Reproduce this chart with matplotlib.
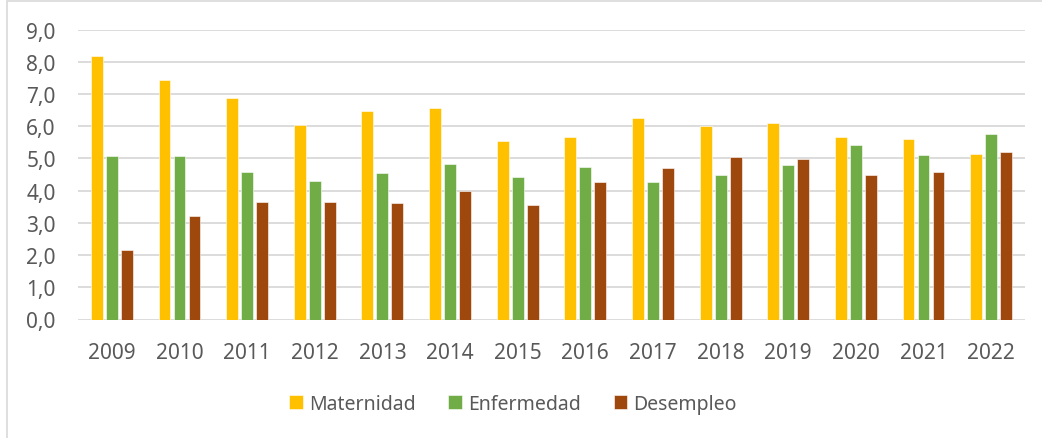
import matplotlib.pyplot as plt
import numpy as np
from matplotlib.patches import Rectangle
from matplotlib.ticker import FuncFormatter

plt.rcParams['font.family'] = ['Noto Sans', 'DejaVu Sans']

#-----------------------------
# DATA
#-----------------------------
years = ["2009", "2010", "2011", "2012", "2013", "2014", "2015",
         "2016", "2017", "2018", "2019", "2020", "2021", "2022"]
maternidad = [8.19, 7.44, 6.88, 6.05, 6.48, 6.55, 5.53, 5.65, 6.24, 5.99, 6.10, 5.66, 5.60, 5.14]
enfermedad = [5.07, 5.07, 4.57, 4.29, 4.55, 4.82, 4.41, 4.72, 4.28, 4.49, 4.78, 5.43, 5.11, 5.77]
desempleo = [2.16, 3.20, 3.66, 3.64, 3.61, 3.98, 3.54, 4.27, 4.69, 5.04, 4.98, 4.50, 4.59, 5.19]

series = [("Maternidad", maternidad, "#FFC000"),
          ("Enfermedad", enfermedad, "#70AD47"),
          ("Desempleo", desempleo, "#9E480E")]

text_col = "#595959"

#-----------------------------
# FIGURE
#-----------------------------
fig = plt.figure(figsize=(10.42, 4.39), dpi=100)
ax = fig.add_axes([78 / 1042, 1 - 320.5 / 439, (1025 - 78) / 1042, (320.5 - 30.5) / 439])

x = np.arange(len(years))
w = 0.175
offsets = [-0.222, 0, 0.222]
for (name, vals, col), off in zip(series, offsets):
    ax.bar(x + off, vals, width=w, color=col, label=name, zorder=3,
           edgecolor="white", linewidth=0.4)

ax.set_ylim(0, 9)
ax.set_xlim(-0.5, len(years) - 0.5)
ax.set_yticks(np.arange(0, 10, 1))
ax.yaxis.set_major_formatter(FuncFormatter(lambda v, p: f"{v:.1f}".replace(".", ",")))
ax.set_xticks(x)
ax.set_xticklabels(years)

ax.grid(axis="y", color="#D9D9D9", linewidth=1.3, zorder=0)
for s in ax.spines.values():
    s.set_visible(False)
ax.tick_params(length=0, labelsize=15, colors=text_col)
ax.tick_params(axis="x", pad=16)
ax.tick_params(axis="y", pad=16)

leg = fig.legend(loc="center", bbox_to_anchor=(513 / 1042, 1 - 405 / 439), ncol=3,
                 frameon=False, fontsize=14, handlelength=0.7, handleheight=0.7,
                 columnspacing=1.7, handletextpad=0.3)
for t in leg.get_texts():
    t.set_color(text_col)

# chart border (only left and top edges fall inside the image)
fig.patches.append(Rectangle((7 / 1042, -0.05), 1.1, 1 - 1.5 / 439 + 0.05, transform=fig.transFigure,
                             fill=False, edgecolor="#D9D9D9", linewidth=1.2))

plt.savefig("out.png", dpi=100)
plt.close()
